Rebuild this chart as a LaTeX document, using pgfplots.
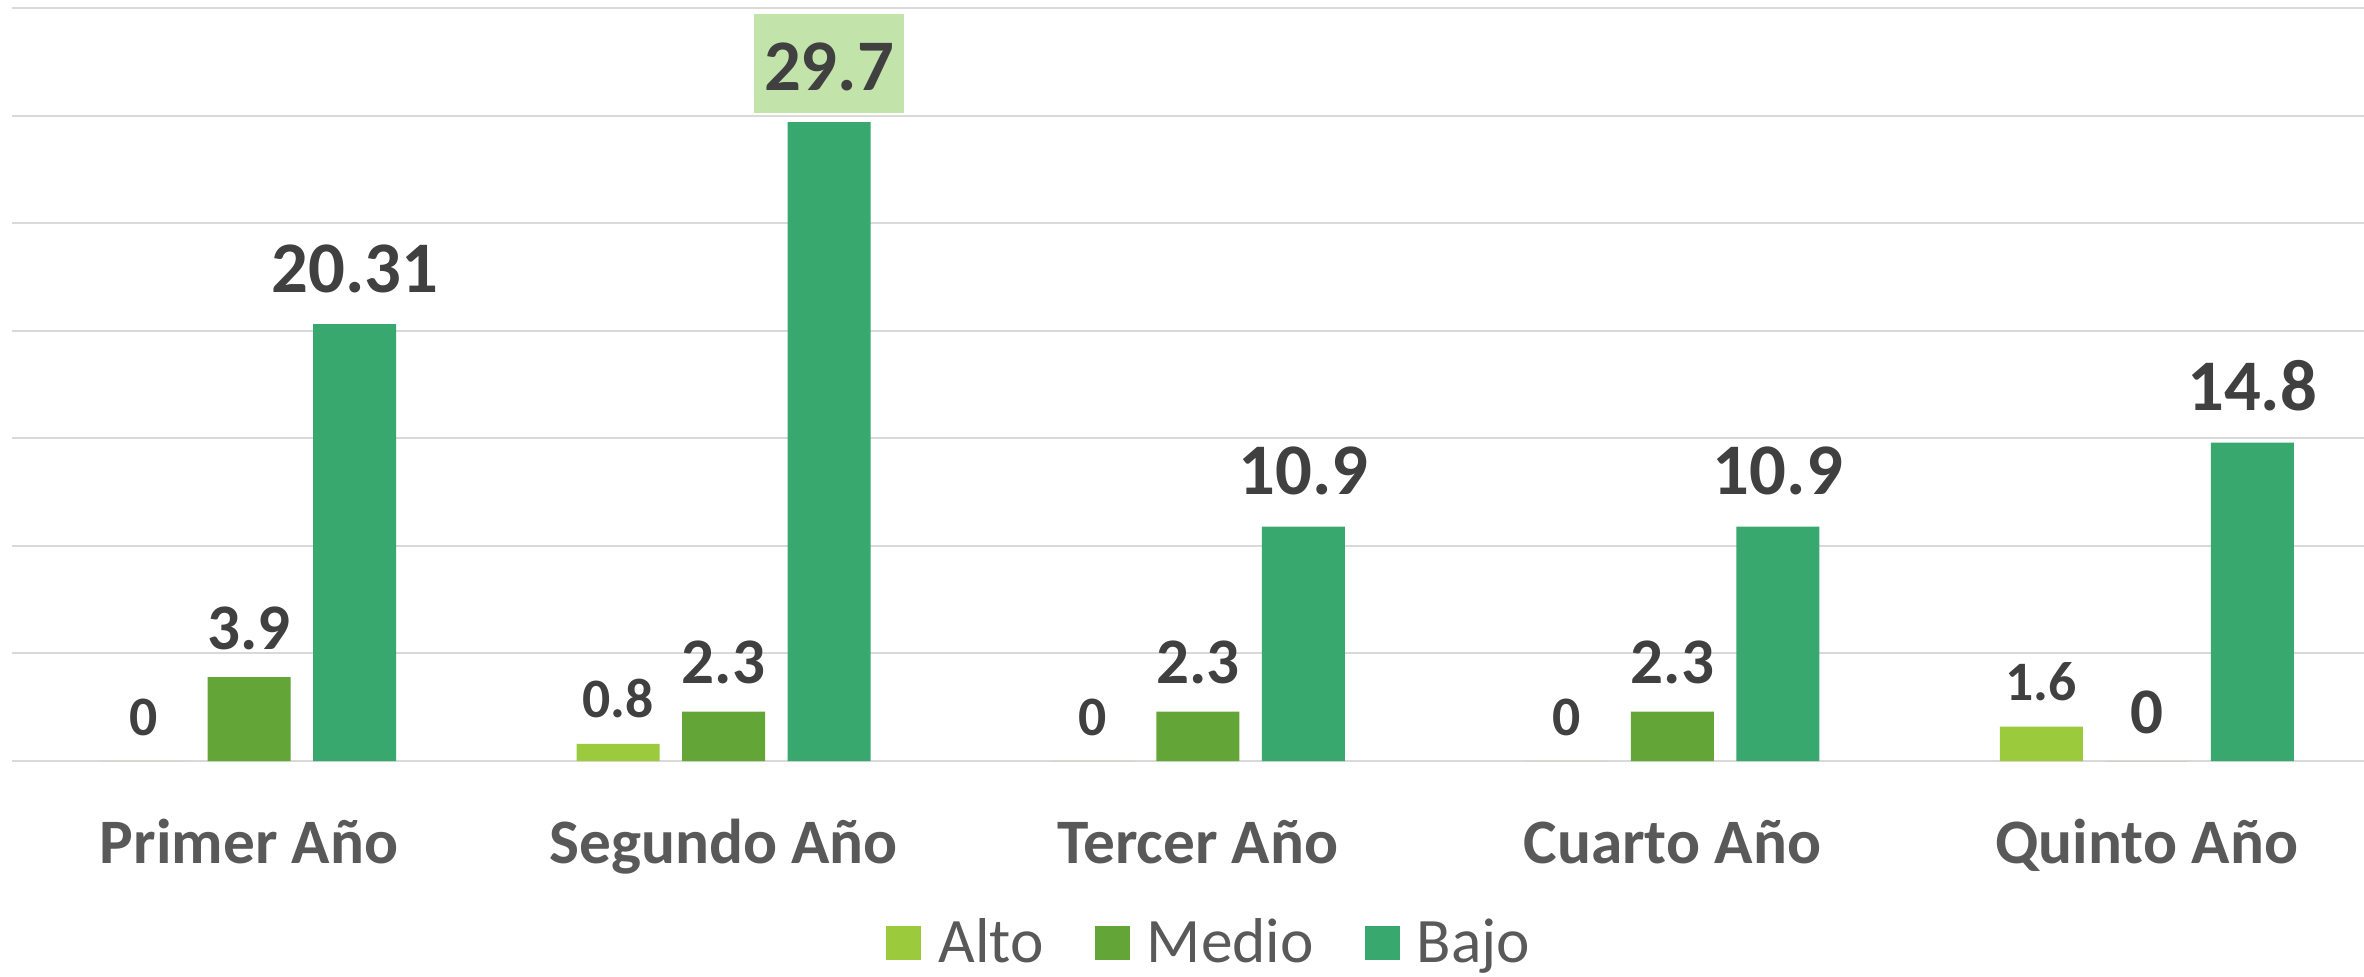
\documentclass[border=0pt]{standalone}
\usepackage{fontspec}
\setmainfont{Carlito}
\usepackage{pgfplots}
\pgfplotsset{compat=1.18}
\definecolor{alto}{RGB}{155,203,60}
\definecolor{medio}{RGB}{100,165,55}
\definecolor{bajo}{RGB}{56,168,111}
\definecolor{labelbg}{RGB}{194,228,170}
\definecolor{gridgray}{RGB}{217,217,217}
\definecolor{labelgray}{RGB}{64,64,64}
\definecolor{catgray}{RGB}{89,89,89}
\pgfplotsset{sqlegend/.style={legend image code/.code={\fill[##1] (0pt,-5.1pt) rectangle (10.5pt,5.1pt);}}}
\begin{document}
\begin{tikzpicture}
\path[use as bounding box] (0,0) rectangle (709.2pt,292.8pt);
\begin{axis}[
  at={(3.6pt,64.5pt)}, anchor=south west,
  width=705.6pt, height=225.9pt, scale only axis,
  xmin=-0.5, xmax=4.458, ymin=0, ymax=35,
  axis line style={draw=none},
  ytick={0,5,...,35}, yticklabels={},
  ymajorgrids, grid style={draw=gridgray, line width=0.6pt},
  xtick={0,1,2,3,4},
  xticklabels={Primer Año, Segundo Año, Tercer Año, Cuarto Año, Quinto Año},
  major tick length=0pt,
  xticklabel style={anchor=base, yshift=-30.6pt, font=\fontsize{19}{23}\selectfont\bfseries, text=catgray},
  bar width=24.9pt,
  legend columns=-1,
  legend style={draw=none, at={(axis description cs:0.5,0)}, anchor=center, yshift=-54.6pt, xshift=7.1pt,
    font=\fontsize{19}{23}\selectfont, text=catgray,
    /tikz/every odd column/.append style={column sep=3.2pt},
    /tikz/every even column/.append style={column sep=13.2pt}},
]
\addplot[ybar, bar shift=-31.65pt, fill=alto, draw=none, sqlegend,
  nodes near coords={\pgfmathprintnumber[assume math mode=true]{\pgfplotspointmeta}},
  every node near coord/.append style={anchor=base, xshift=-31.65pt, yshift=7.8pt, font=\fontsize{16.7}{20}\selectfont\bfseries, text=labelgray}]
  coordinates {(0,0) (1,0.8) (2,0) (3,0) (4,1.6)};
\addlegendentry{Alto}
\addplot[ybar, bar shift=0pt, fill=medio, draw=none, sqlegend,
  nodes near coords={\pgfmathprintnumber[assume math mode=true]{\pgfplotspointmeta}},
  every node near coord/.append style={anchor=base, yshift=8.4pt, font=\fontsize{19.5}{23}\selectfont\bfseries, text=labelgray}]
  coordinates {(0,3.9) (1,2.3) (2,2.3) (3,2.3) (4,0)};
\addlegendentry{Medio}
\addplot[ybar, bar shift=31.65pt, fill=bajo, draw=none, sqlegend,
  nodes near coords={\pgfmathprintnumber[assume math mode=true]{\pgfplotspointmeta}},
  every node near coord/.append style={anchor=base, xshift=31.65pt, yshift=9.6pt, font=\fontsize{21.8}{26}\selectfont\bfseries, text=labelgray},
  coordinate style/.condition={x==1}{fill=labelbg, text height=22.8pt, text depth=6.9pt, inner xsep=3pt, inner ysep=0pt}]
  coordinates {(0,20.31) (1,29.7) (2,10.9) (3,10.9) (4,14.8)};
\addlegendentry{Bajo}
\end{axis}
\end{tikzpicture}
\end{document}
